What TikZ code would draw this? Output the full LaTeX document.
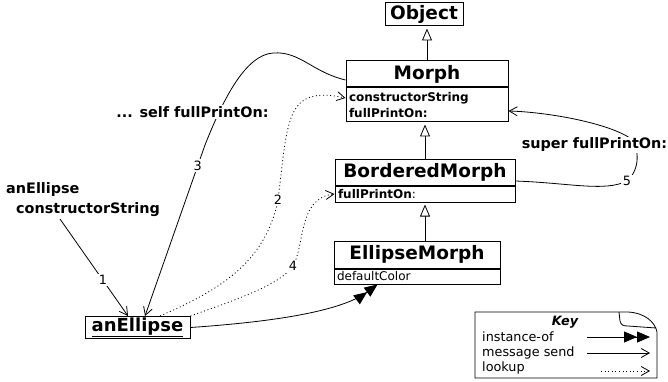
\documentclass[tikz,border=0pt]{standalone}
\usepackage{fontspec}
\setmainfont{DejaVu Sans}
\usetikzlibrary{arrows.meta,positioning}

\begin{document}
\begin{tikzpicture}[
  x=1pt, y=-1pt,
  classhead/.style={draw, line width=1pt, fill=white, inner sep=0pt,
    minimum height=26pt, font=\bfseries\fontsize{18.5}{20}\selectfont},
  classops/.style={draw, line width=1pt, fill=white, inner xsep=3pt, inner ysep=1pt,
    align=left, font=\fontsize{12}{15.5}\selectfont},
  label/.style={font=\bfseries\fontsize{14.4}{20}\selectfont, fill=white, inner sep=1pt},
  num/.style={font=\fontsize{12.8}{14}\selectfont, fill=white, inner sep=1.5pt},
  send/.style={-{Straight Barb[length=8pt,width=9pt]}, line width=0.8pt},
  lookup/.style={send, dash pattern=on 1pt off 2.6pt},
  instof/.style={-{Triangle[length=13pt,width=11pt]Triangle[length=13pt,width=11pt]}, line width=0.8pt},
  inherit/.style={-{Triangle[open,length=12pt,width=10pt,fill=white]}, line width=0.8pt, shorten >=2pt},
  keytext/.style={font=\fontsize{12.8}{14}\selectfont, anchor=west, inner sep=0pt},
]
\useasboundingbox (0,0) rectangle (668,382);

% Classes
\node[classhead, minimum width=78pt, minimum height=23pt] (object) at (424,14.5) {Object};
\node[classhead, minimum width=162pt] (morph) at (427,74) {Morph};
\node[classops, below=0pt of morph, text width=156pt, minimum height=34pt,
  font=\bfseries\fontsize{12}{15.5}\selectfont] (morphops) {constructorString\\fullPrintOn:};
\node[classhead, minimum width=180pt] (bm) at (425,172) {BorderedMorph};
\node[classops, below=0pt of bm, text width=174pt, minimum height=16pt] (bmops) {{\bfseries fullPrintOn}:};
\node[classhead, minimum width=166pt, minimum height=27pt] (em) at (417,254.5) {EllipseMorph};
\node[classops, below=0pt of em, text width=160pt, minimum height=15pt] (emops) {defaultColor};

% Instance
\node[draw, line width=1pt, minimum width=105pt, minimum height=22pt, inner sep=0pt,
  font=\bfseries\fontsize{18}{20}\selectfont] (anell) at (137.5,327.5) {\underline{anEllipse}};

\node[label, align=left, anchor=west, fill=none] (ctorlbl) at (5,200) {anEllipse\\\hspace*{10pt}constructorString};
\coordinate (c1) at (60,219);

% Inheritance
\draw[inherit] (morph.north) -- (morph.north |- object.south);
\draw[inherit] (bm.north) -- (bm.north |- morphops.south);
\draw[inherit] (em.north -| bm.north) -- (bmops.south);

% instance-of
\draw[instof] (anell.east) .. controls (270,322) and (340,312) .. ([xshift=44pt]emops.south west);

% Messages and lookups
\draw[send] (c1) -- node[num, pos=0.63] {1} ([xshift=-9.5pt]anell.north);
\draw[lookup] ([xshift=22.5pt]anell.north) .. controls (215,292) and (265,265) .. (278,200)
  node[num] {2}
  .. controls (288,120) and (285,85) .. ([yshift=7pt]morphops.west);
\draw[send] ([yshift=-6pt]morph.west) .. controls (312,72) and (300,51) .. (273,53)
  .. controls (246,55) and (224,97) .. (205,145)
  -- node[num, pos=0.12] {3} ([xshift=7.5pt]anell.north);
\draw[lookup] (anell.north east) .. controls (235,300) and (280,285) .. (293,266)
  node[num] {4}
  .. controls (305,245) and (298,198) .. (bmops.west);
\draw[send] ([yshift=-9pt]bm.east) .. controls (570,183) and (605,192) .. (627,181)
  node[num] {5}
  .. controls (640,170) and (640,148) .. (630,138)
  .. controls (605,122) and (545,112) .. ([yshift=-6pt]morphops.east);

\node[label] (selflbl) at (192.5,112) {... self fullPrintOn:};
\node[label] (superlbl) at (594.5,145) {super fullPrintOn:};

% Key
\draw[line width=0.8pt] (475,312) -- (628,312) .. controls (645,313) and (655,322) .. (657,332)
  -- (657,378) -- (475,378) -- cycle;
\draw[line width=0.8pt] (619,312) -- (620,321) .. controls (621,325) and (623,326) .. (628,326) -- (656,328);
\node[font=\bfseries\itshape\fontsize{12.8}{14}\selectfont] (keytitle) at (565,322) {Key};
\node[keytext] (kinst) at (482,337) {instance-of};
\node[keytext] (ksend) at (482,353) {message send};
\node[keytext] (klook) at (482,368) {lookup};
\coordinate (ki1) at (587,337);
\coordinate (ki2) at (650,337);
\coordinate (ks1) at (587,353);
\coordinate (ks2) at (650,353);
\coordinate (kl1) at (601,371);
\coordinate (kl2) at (650,371);
\draw[instof] (ki1) -- (ki2);
\draw[send] (ks1) -- (ks2);
\draw[lookup] (kl1) -- (kl2);

\end{tikzpicture}
\end{document}
